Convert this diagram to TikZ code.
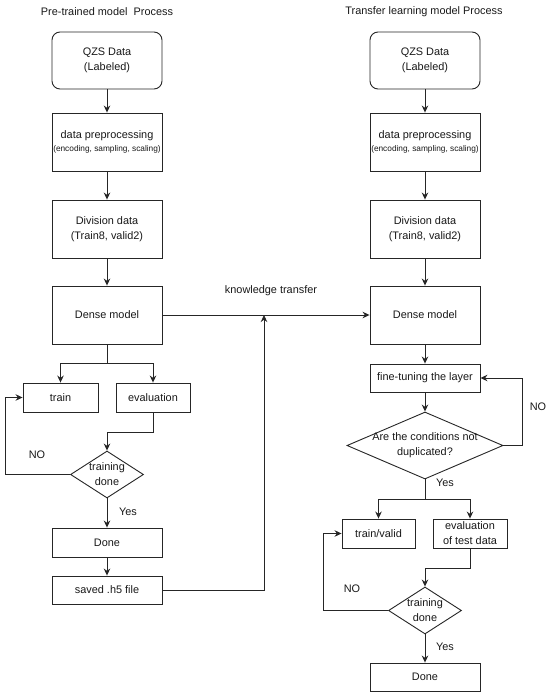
\documentclass[tikz,border=0pt]{standalone}
\usepackage{fontspec}
\setmainfont{Liberation Sans}
\usetikzlibrary{arrows.meta,shapes.geometric}
\begin{document}
\begin{tikzpicture}[x=1pt,y=-1pt,
  every node/.style={font=\fontsize{10.9}{15}\selectfont, text=black!90},
  box/.style={draw=black!85, line width=0.9pt, fill=white, inner sep=0pt, align=center},
  rbox/.style={box, rounded corners=8pt},
  dia/.style={diamond, draw=black!85, line width=0.9pt, fill=white, inner sep=0pt, minimum width=#1},
  arr/.style={-{Stealth[length=7pt,width=6.5pt]}, line width=0.9pt, draw=black!85},
  ln/.style={line width=0.9pt, draw=black!85},
  small/.style={font=\fontsize{8.3}{10}\selectfont}]
\useasboundingbox[fill=white] (0,0) rectangle (550,697);

% titles
\node (tl) at (107,12) {Pre-trained model\ \ Process};
\node (tr) at (424,12) {Transfer learning model Process};

% left column
\node[rbox, minimum width=110pt, minimum height=57pt] (qzsL) at (107,60.5) {QZS Data\\(Labeled)};
\node[box, minimum width=110pt, minimum height=58pt] (preL) at (107,142) {data preprocessing\\[-2pt]{\fontsize{8.3}{10}\selectfont(encoding, sampling, scaling)}};
\node[box, minimum width=110pt, minimum height=58pt] (divL) at (107,229) {Division data\\(Train8, valid2)};
\node[box, minimum width=110pt, minimum height=58pt] (denL) at (107,315) {Dense model};
\node[box, minimum width=75pt, minimum height=29pt] (trL) at (60.5,397.5) {train};
\node[box, minimum width=74pt, minimum height=29pt] (evL) at (153,397.5) {evaluation};
\node[dia=73pt, minimum height=47pt] (dL) at (107,474.5) {};
\node[align=center] (dLt) at (dL.center) {training\\done};
\node[box, minimum width=110pt, minimum height=29pt] (doneL) at (107,542.5) {Done};
\node[box, minimum width=110pt, minimum height=28pt] (savL) at (107,590) {saved .h5 file};

% right column
\node[rbox, minimum width=110pt, minimum height=57pt] (qzsR) at (425,60.5) {QZS Data\\(Labeled)};
\node[box, minimum width=110pt, minimum height=58pt] (preR) at (425,142) {data preprocessing\\[-2pt]{\fontsize{8.3}{10}\selectfont(encoding, sampling, scaling)}};
\node[box, minimum width=110pt, minimum height=58pt] (divR) at (425,229) {Division data\\(Train8, valid2)};
\node[box, minimum width=110pt, minimum height=58pt] (denR) at (425,315) {Dense model};
\node[box, minimum width=110pt, minimum height=28pt] (fine) at (425,378) {fine-tuning the layer};
\node[dia=156pt, minimum height=67pt] (dR) at (425,445.5) {};
\node[align=center] (dRt) at (dR.center) {Are the conditions not\\duplicated?};
\node[box, minimum width=73pt, minimum height=29pt] (trR) at (378.5,533.5) {train/valid};
\node[box, minimum width=74pt, minimum height=29pt] (evR) at (470,533.5) {evaluation\\of test data};
\node[dia=73pt, minimum height=47pt] (dR2) at (425,610.5) {};
\node[align=center] (dR2t) at (dR2.center) {training\\done};
\node[box, minimum width=110pt, minimum height=28pt] (doneR) at (425,677) {Done};

% left connectors
\draw[arr] (qzsL) -- (preL);
\draw[arr] (preL) -- (divL);
\draw[arr] (divL) -- (denL);
\draw[arr] (denL.south) -- ++(0,19) -| (trL.north);
\draw[arr] (denL.south) -- ++(0,19) -| (evL.north);
\draw[arr] (evL.south) -- ++(0,20) -| (dL.north);
\draw[arr] (dL.west) -- ++(-65,0) |- (trL.west);
\draw[arr] (dL.south) -- (doneL.north);
\draw[arr] (doneL) -- (savL);
\coordinate (kt) at (264,315);
\draw[arr] (savL.east) -| (kt);
\draw[arr] (denL.east) -- (denR.west);
\node (ktl) at (271,291) {knowledge transfer};
\node (noL) at (37,455) {NO};
\node (yesL) at (128,512) {Yes};

% right connectors
\draw[arr] (qzsR) -- (preR);
\draw[arr] (preR) -- (divR);
\draw[arr] (divR) -- (denR);
\draw[arr] (denR) -- (fine);
\draw[arr] (fine) -- (dR.north);
\draw[arr] (dR.east) -- ++(19,0) |- (fine.east);
\draw[arr] (dR.south) -- ++(0,20) -| (trR.north);
\draw[arr] (dR.south) -- ++(0,20) -| (evR.north);
\draw[arr] (evR.south) -- ++(0,20) -| (dR2.north);
\draw[arr] (dR2.west) -- ++(-65,0) |- (trR.west);
\draw[arr] (dR2.south) -- (doneR.north);
\node (noR) at (538,407) {NO};
\node (yesR) at (445,483) {Yes};
\node (noR2) at (352,589) {NO};
\node (yesR2) at (445,647) {Yes};
\end{tikzpicture}
\end{document}
